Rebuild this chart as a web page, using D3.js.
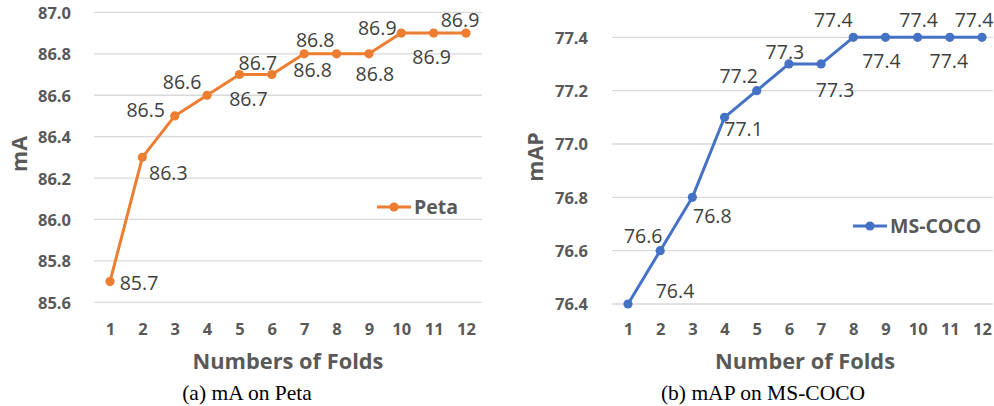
<!DOCTYPE html>
<html>
<head>
<meta charset="utf-8">
<script src="https://cdn.jsdelivr.net/npm/d3@7"></script>
<style>
  html, body { margin: 0; padding: 0; background: #fff; }
  svg { display: block; }
</style>
</head>
<body>
<svg id="chart" width="994" height="406"></svg>
<script>
// ---- data ----
const folds = [1, 2, 3, 4, 5, 6, 7, 8, 9, 10, 11, 12];
const petaValues = [85.7, 86.3, 86.5, 86.6, 86.7, 86.7, 86.8, 86.8, 86.8, 86.9, 86.9, 86.9];
const cocoValues = [76.4, 76.6, 76.8, 77.1, 77.2, 77.3, 77.3, 77.4, 77.4, 77.4, 77.4, 77.4];
const petaTicks = [85.6, 85.8, 86.0, 86.2, 86.4, 86.6, 86.8, 87.0];
const cocoTicks = [76.4, 76.6, 76.8, 77.0, 77.2, 77.4];

// ---- label placement (style, offsets from point) ----
const petaLabelOffsets = [[29,1],[26,16],[-29,-6],[-25,-13],[9,24],[-14,-12],[11,-14],[-24,16],[6,20],[-24,-5],[-2,24],[-6,-13]];
const cocoLabelOffsets = [[47,-13],[-17,-15],[20,19],[19,12],[-18,-15],[-4,-12],[14,26],[-20,-17],[-4,24],[1,-17],[-1,24],[-8,-17]];

const svg = d3.select("#chart");
svg.append("rect").attr("width", 994).attr("height", 406).attr("fill", "#fff");

const TICK_COLOR = "#595959";
const LABEL_COLOR = "#404040";
const GRID_COLOR = "#d9d9d9";
const SANS = "'Open Sans', 'Noto Sans', sans-serif";

function drawPanel(cfg) {
  const g = svg.append("g");
  const x = d3.scalePoint().domain(folds).range([cfg.x0, cfg.x1]);
  const y = d3.scaleLinear().domain(cfg.domain).range([cfg.yBottom, cfg.yTop]);

  // gridlines
  g.append("g").selectAll("line").data(cfg.ticks).join("line")
    .attr("x1", cfg.gridL).attr("x2", cfg.gridR)
    .attr("y1", d => y(d)).attr("y2", d => y(d))
    .attr("stroke", GRID_COLOR).attr("stroke-width", 1.3);

  // y axis via d3.axisLeft, restyled
  const yAxis = g.append("g")
    .attr("transform", `translate(${cfg.yLabelX},0)`)
    .call(d3.axisLeft(y).tickValues(cfg.ticks).tickFormat(d3.format(".1f")).tickSize(0).tickPadding(0));
  yAxis.select(".domain").remove();
  yAxis.selectAll("text")
    .attr("font-family", SANS).attr("font-weight", "bold").attr("font-size", 16.5)
    .attr("fill", TICK_COLOR).attr("dy", "0.36em");

  // x axis
  const xAxis = g.append("g")
    .attr("transform", `translate(0,${cfg.xLabelY})`)
    .call(d3.axisBottom(x).tickSize(0).tickPadding(0));
  xAxis.select(".domain").remove();
  xAxis.selectAll("text")
    .attr("font-family", SANS).attr("font-weight", "bold").attr("font-size", 16.5)
    .attr("fill", TICK_COLOR).attr("dy", 0);

  // line
  const line = d3.line().x((d, i) => x(folds[i])).y(d => y(d));
  g.append("path").datum(cfg.values)
    .attr("d", line).attr("fill", "none")
    .attr("stroke", cfg.color).attr("stroke-width", 3).attr("stroke-linejoin", "round");

  g.append("g").selectAll("circle").data(cfg.values).join("circle")
    .attr("cx", (d, i) => x(folds[i])).attr("cy", d => y(d)).attr("r", 4.6)
    .attr("fill", cfg.color);

  // data labels
  g.append("g").selectAll("text").data(cfg.values).join("text")
    .attr("x", (d, i) => x(folds[i]) + cfg.offsets[i][0])
    .attr("y", (d, i) => y(d) + cfg.offsets[i][1])
    .attr("text-anchor", "middle").attr("dy", "0.36em")
    .attr("font-family", SANS).attr("font-size", 19.5).attr("fill", LABEL_COLOR)
    .text(d => d3.format(".1f")(d));

  // y title
  g.append("text")
    .attr("transform", `translate(${cfg.yTitleX},${cfg.yTitleY}) rotate(-90)`)
    .attr("text-anchor", "middle")
    .attr("font-family", SANS).attr("font-weight", "bold").attr("font-size", 21.5)
    .attr("fill", TICK_COLOR).text(cfg.yTitle);

  // x title
  g.append("text")
    .attr("x", cfg.xTitleX).attr("y", 369).attr("text-anchor", "middle")
    .attr("font-family", SANS).attr("font-weight", "bold").attr("font-size", 21.8)
    .attr("fill", TICK_COLOR).text(cfg.xTitle);

  // legend
  const lg = g.append("g").attr("transform", `translate(${cfg.legendX},${cfg.legendY})`);
  lg.append("line").attr("x1", 0).attr("x2", 34).attr("y1", 0).attr("y2", 0)
    .attr("stroke", cfg.color).attr("stroke-width", 3);
  lg.append("circle").attr("cx", 17).attr("cy", 0).attr("r", 4.6).attr("fill", cfg.color);
  lg.append("text").attr("x", 37).attr("y", 0).attr("dy", "0.36em")
    .attr("font-family", SANS).attr("font-weight", "bold").attr("font-size", 19.5)
    .attr("fill", TICK_COLOR).text(cfg.series);

  // caption
  g.append("text")
    .attr("x", cfg.captionX).attr("y", 400).attr("text-anchor", "middle")
    .attr("font-family", "'Liberation Serif', 'Times New Roman', serif").attr("font-size", 21.5)
    .attr("fill", "#000")
    .text(cfg.caption);
}

drawPanel({
  values: petaValues, ticks: petaTicks, domain: [85.6, 87.0], offsets: petaLabelOffsets,
  x0: 110, x1: 466, yBottom: 302.3, yTop: 12.4, gridL: 94, gridR: 482,
  yLabelX: 71, xLabelY: 335, color: "#ED7D31",
  yTitle: "mA", yTitleX: 27, yTitleY: 154,
  xTitle: "Numbers of Folds", xTitleX: 288,
  legendX: 377, legendY: 207, series: "Peta",
  caption: "(a) mA on Peta", captionX: 247
});

drawPanel({
  values: cocoValues, ticks: cocoTicks, domain: [76.4, 77.4], offsets: cocoLabelOffsets,
  x0: 628, x1: 982, yBottom: 304, yTop: 37.3, gridL: 612, gridR: 993,
  yLabelX: 588, xLabelY: 335, color: "#4472C4",
  yTitle: "mAP", yTitleX: 543, yTitleY: 157,
  xTitle: "Number of Folds", xTitleX: 805,
  legendX: 853, legendY: 226, series: "MS-COCO",
  caption: "(b) mAP on MS-COCO", captionX: 763
});
</script>
</body>
</html>
